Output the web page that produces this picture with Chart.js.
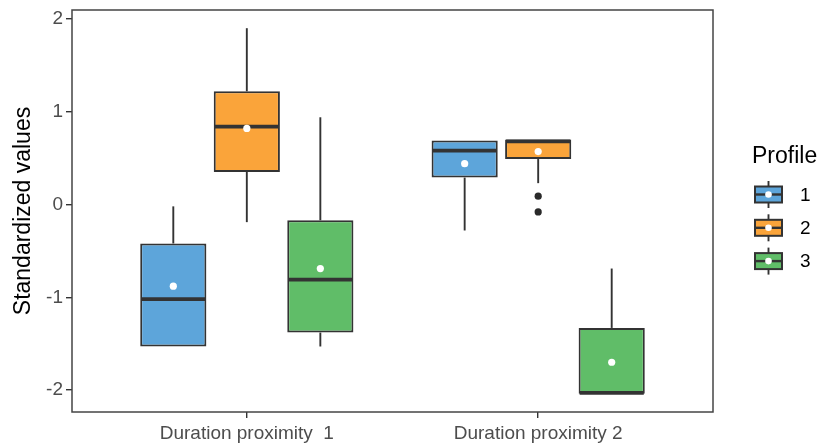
<!DOCTYPE html>
<html><head><meta charset="utf-8">
<script src="https://cdn.jsdelivr.net/npm/chart.js@4/dist/chart.umd.min.js"></script>
<style>html,body{margin:0;padding:0;background:#fff;} canvas{display:block;}</style>
</head><body>
<canvas id="c" width="824" height="443"></canvas>
<script>
// ---- data ----
const categories = ['Duration proximity  1', 'Duration proximity 2'];
const profiles = ['1', '2', '3'];
const yTicks = [-2, -1, 0, 1, 2];

// Profile 1
const p1Min  = [-1.53, -0.28];
const p1Q1   = [-1.53,  0.29];
const p1Med  = [-1.02,  0.58];
const p1Q3   = [-0.42,  0.69];
const p1Max  = [-0.02,  0.69];
const p1Mean = [-0.88,  0.44];
const p1Out  = [[], []];
// Profile 2
const p2Min  = [-0.19,  0.23];
const p2Q1   = [ 0.35,  0.49];
const p2Med  = [ 0.84,  0.68];
const p2Q3   = [ 1.22,  0.70];
const p2Max  = [ 1.90,  0.70];
const p2Mean = [ 0.82,  0.57];
const p2Out  = [[], [0.09, -0.08]];
// Profile 3
const p3Min  = [-1.53, -2.04];
const p3Q1   = [-1.38, -2.04];
const p3Med  = [-0.81, -2.03];
const p3Q3   = [-0.17, -1.33];
const p3Max  = [ 0.94, -0.69];
const p3Mean = [-0.69, -1.70];
const p3Out  = [[], []];

const colors = ['#5DA5DA', '#FAA43A', '#60BD68'];
const ink = '#333333';
const FONT = '"Liberation Sans", Arial, sans-serif';

const stats = [
  {min: p1Min, q1: p1Q1, med: p1Med, q3: p1Q3, max: p1Max, mean: p1Mean, out: p1Out},
  {min: p2Min, q1: p2Q1, med: p2Med, q3: p2Q3, max: p2Max, mean: p2Mean, out: p2Out},
  {min: p3Min, q1: p3Q1, med: p3Med, q3: p3Q3, max: p3Max, mean: p3Mean, out: p3Out}
];

const datasets = stats.map((s, i) => ({
  label: profiles[i],
  data: categories.map((c, j) => ({x: j + 1, y: [s.q1[j], s.q3[j]]})),
  backgroundColor: colors[i],
  borderColor: ink,
  borderWidth: 2,
  borderSkipped: false,
  barPercentage: 0.9,
  categoryPercentage: 0.757
}));

function seg(ctx, x1, y1, x2, y2) {
  ctx.beginPath(); ctx.moveTo(x1, y1); ctx.lineTo(x2, y2); ctx.stroke();
}
function dot(ctx, x, y, r, col) {
  ctx.beginPath(); ctx.arc(x, y, r, 0, Math.PI * 2); ctx.fillStyle = col; ctx.fill();
}

const boxPlugin = {
  id: 'boxes',
  beforeDatasetsDraw(chart) {
    const ctx = chart.ctx, ys = chart.scales.y;
    stats.forEach((s, di) => {
      chart.getDatasetMeta(di).data.forEach((el, j) => {
        ctx.save();
        ctx.strokeStyle = ink; ctx.lineWidth = 1.9;
        if (s.max[j] > s.q3[j]) seg(ctx, el.x, ys.getPixelForValue(s.q3[j]), el.x, ys.getPixelForValue(s.max[j]));
        if (s.min[j] < s.q1[j]) seg(ctx, el.x, ys.getPixelForValue(s.q1[j]), el.x, ys.getPixelForValue(s.min[j]));
        ctx.restore();
      });
    });
  },
  afterDatasetsDraw(chart) {
    const ctx = chart.ctx, ys = chart.scales.y;
    stats.forEach((s, di) => {
      chart.getDatasetMeta(di).data.forEach((el, j) => {
        const half = el.width / 2;
        ctx.save();
        ctx.strokeStyle = ink; ctx.lineWidth = 3.8;
        const ym = ys.getPixelForValue(s.med[j]);
        seg(ctx, el.x - half + 1, ym, el.x + half - 1, ym);
        s.out[j].forEach(v => dot(ctx, el.x, ys.getPixelForValue(v), 3.6, '#2a2a2a'));
        dot(ctx, el.x, ys.getPixelForValue(s.mean[j]), 3.6, '#FFFFFF');
        ctx.restore();
      });
    });
  },
  afterDraw(chart) {
    const ctx = chart.ctx, a = chart.chartArea;
    ctx.save();
    ctx.strokeStyle = '#444'; ctx.lineWidth = 1.5;
    ctx.strokeRect(a.left, a.top, a.right - a.left, a.bottom - a.top);
    // legend
    const lx = a.right + 39;
    ctx.fillStyle = '#000';
    ctx.font = '23px ' + FONT;
    ctx.textBaseline = 'alphabetic';
    ctx.textAlign = 'left';
    ctx.fillText('Profile', lx, 163);
    profiles.forEach((p, i) => {
      const cy = 194.5 + i * 33.3;
      const kx = lx + 3, kw = 27, cx = kx + kw / 2;
      ctx.strokeStyle = ink; ctx.lineWidth = 1.9;
      seg(ctx, cx, cy - 13.5, cx, cy + 13.5);
      ctx.fillStyle = colors[i];
      ctx.fillRect(kx, cy - 8, kw, 16);
      ctx.lineWidth = 2;
      ctx.strokeRect(kx, cy - 8, kw, 16);
      ctx.lineWidth = 2.4;
      seg(ctx, kx, cy, kx + kw, cy);
      dot(ctx, cx, cy, 3.3, '#FFFFFF');
      ctx.fillStyle = '#000';
      ctx.font = '19px ' + FONT;
      ctx.textBaseline = 'middle';
      ctx.fillText(p, lx + 48, cy + 1);
    });
    ctx.restore();
  }
};

new Chart(document.getElementById('c'), {
  type: 'bar',
  data: { datasets },
  plugins: [boxPlugin],
  options: {
    responsive: false,
    devicePixelRatio: 1,
    animation: false,
    layout: { padding: { left: 0, top: 10, right: 111, bottom: 0 } },
    plugins: { legend: { display: false }, tooltip: { enabled: false } },
    scales: {
      x: {
        type: 'linear',
        min: 0.4, max: 2.6,
        offset: false,
        grid: { offset: false, drawOnChartArea: false, drawTicks: true, tickLength: 6, color: ink, lineWidth: 1.4 },
        border: { display: false },
        afterBuildTicks: (sc) => { sc.ticks = categories.map((c, j) => ({ value: j + 1 })); },
        afterFit: (sc) => { sc.height = 31; },
        ticks: {
          autoSkip: false, maxRotation: 0,
          padding: 4,
          color: '#4D4D4D',
          font: { size: 19, family: FONT },
          callback: (v) => categories[Math.round(v) - 1]
        }
      },
      y: {
        min: -2.236, max: 2.096,
        grid: { drawOnChartArea: false, drawTicks: true, tickLength: 6, color: ink, lineWidth: 1.4 },
        border: { display: false },
        afterBuildTicks: (sc) => { sc.ticks = yTicks.map(v => ({ value: v })); },
        afterFit: (sc) => { sc.width = 72; },
        ticks: {
          padding: 3,
          color: '#4D4D4D',
          font: { size: 19, family: FONT, lineHeight: 0.7 },
          callback: (v) => String(v)
        },
        title: {
          display: true,
          text: 'Standardized values',
          color: '#000',
          padding: { top: 10, bottom: 0 },
          font: { size: 23, family: FONT }
        }
      }
    }
  }
});
</script>
</body></html>
